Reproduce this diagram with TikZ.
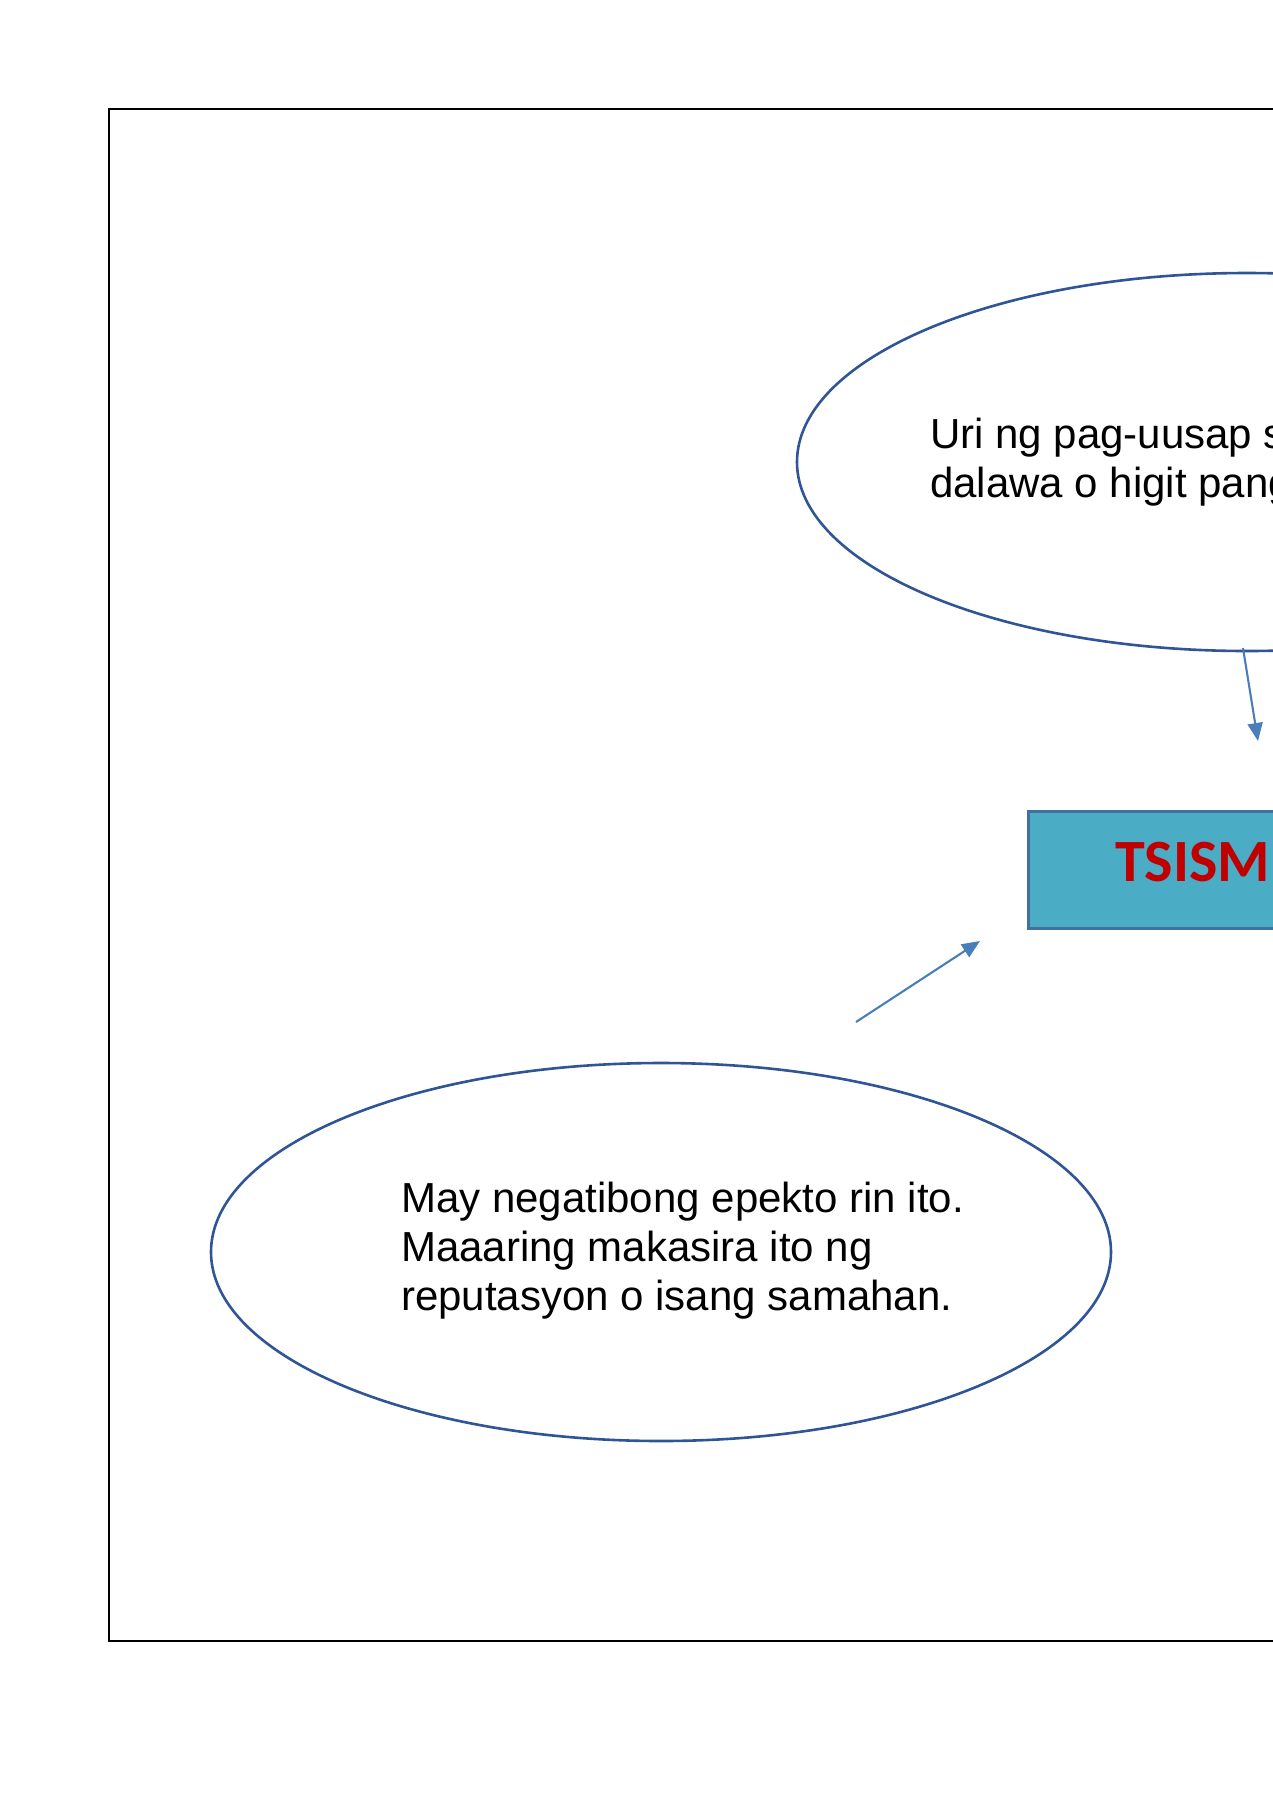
\documentclass[tikz,border=0pt]{standalone}
\usepackage{fontspec}
\setmainfont{Liberation Sans}
\newfontfamily\calibrifont{Carlito}
\usetikzlibrary{arrows.meta,shapes.geometric}
\definecolor{ellblue}{HTML}{2F5597}
\definecolor{arrblue}{HTML}{4A7EBB}
\definecolor{boxfill}{HTML}{4BACC6}
\definecolor{boxline}{HTML}{41719C}
\definecolor{tred}{HTML}{C00000}
\begin{document}
\begin{tikzpicture}[x=1pt,y=-1pt,
  bubble/.style={ellipse,draw=ellblue,line width=2.6pt,minimum width=900pt,minimum height=378pt,inner sep=0pt},
  bubbletext/.style={anchor=north west,inner sep=0pt,align=left,font=\fontsize{42}{49}\selectfont},
  flow/.style={draw=arrblue,line width=2.1pt,-{Triangle[length=18pt,width=15pt]}},
  titlebox/.style={draw=boxline,fill=boxfill,line width=2.6pt,inner sep=0pt}]
\useasboundingbox (0,0) rectangle (1273,1800);
\draw[line width=1.4pt] (109,109) rectangle (1500,1641);
% top ellipse
\node[bubble] (top) at (1247,462) {};
\node[bubbletext] (toptext) at (930,418) {Uri ng pag-uusap s\\dalawa o higit pang};
% box
\node[titlebox,anchor=north west,minimum width=600pt,minimum height=117pt] (box) at (1027,810) {};
\node[anchor=base west,inner sep=0pt,text=tred,font=\calibrifont\bfseries\fontsize{60}{60}\selectfont] (boxtext) at (1115,881) {TSISM};
% bottom ellipse
\node[bubble] (bot) at (661,1252) {};
\node[bubbletext] (bottext) at (401,1182) {May negatibong epekto rin ito.\\Maaaring makasira ito ng\\reputasyon o isang samahan.};
% arrows
\coordinate (a1s) at (1243,648);
\coordinate (a1e) at (1258,741);
\coordinate (a2s) at (856,1022);
\coordinate (a2e) at (980,941);
\draw[flow] (a1s) -- (a1e);
\draw[flow] (a2s) -- (a2e);
\end{tikzpicture}
\end{document}
